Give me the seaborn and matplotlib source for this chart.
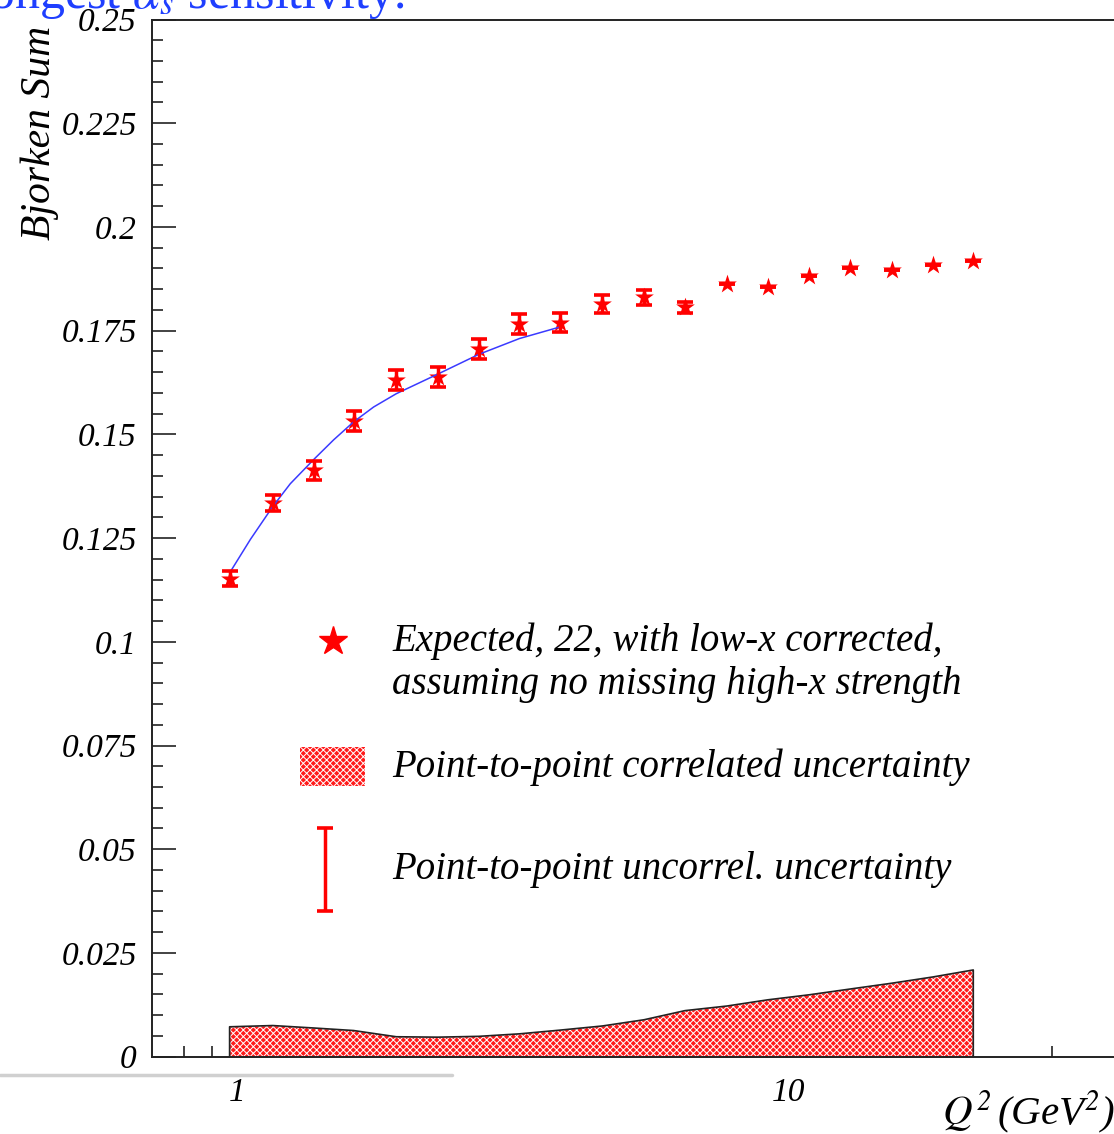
import matplotlib
matplotlib.use("Agg")
import matplotlib.pyplot as plt
from matplotlib.ticker import FixedLocator, NullFormatter
import seaborn as sns
import pandas as pd

# Q^2 (GeV^2) of each point
q2 = [0.968, 1.159, 1.379, 1.624, 1.941, 2.306, 2.741, 3.246, 3.847, 4.590,
      5.462, 6.480, 7.711, 9.150, 10.86, 12.90, 15.35, 18.21, 21.58]
# expected Bjorken sum
bj_sum = [0.1152, 0.1335, 0.1413, 0.1532, 0.1630, 0.1639, 0.1705, 0.1767, 0.1769, 0.1814,
          0.1830, 0.1806, 0.1862, 0.1855, 0.1882, 0.1902, 0.1896, 0.1908, 0.1918]
# point-to-point uncorrelated uncertainty
uncorr = [0.0018, 0.0020, 0.0023, 0.0024, 0.0024, 0.0024, 0.0024, 0.0024, 0.0023, 0.0022,
          0.0019, 0.0013, 0, 0, 0, 0, 0, 0, 0]
# point-to-point correlated uncertainty (band from 0)
corr = [0.0072, 0.0075, 0.0069, 0.0063, 0.0048, 0.0047, 0.0049, 0.0055, 0.0064, 0.0074,
        0.0089, 0.0111, 0.0122, 0.0137, 0.0149, 0.0163, 0.0177, 0.0192, 0.0209]

# fit curve
fit_q2 = [0.968, 1.056, 1.159, 1.247, 1.379, 1.495, 1.624, 1.766, 1.941, 2.306, 2.741, 3.246, 3.847]
fit_val = [0.1166, 0.1247, 0.1326, 0.1381, 0.1441, 0.1487, 0.1530, 0.1566, 0.1598, 0.1645,
           0.1693, 0.1731, 0.1759]

y_ticks = [0, 0.025, 0.05, 0.075, 0.1, 0.125, 0.15, 0.175, 0.2, 0.225, 0.25]
y_tick_labels = ["0", "0.025", "0.05", "0.075", "0.1", "0.125", "0.15", "0.175", "0.2", "0.225", "0.25"]
x_major = [1, 10]
x_major_labels = ["1", "10"]
x_minor = [0.8, 0.9, 2, 3, 4, 5, 6, 7, 8, 9, 20, 30]

legend_labels = ["Expected, 22, with low-x corrected,", "assuming no missing high-x strength",
                 "Point-to-point correlated uncertainty", "Point-to-point uncorrel. uncertainty"]

df = pd.DataFrame({"q2": q2, "bj": bj_sum, "err": uncorr, "corr": corr})
fit_df = pd.DataFrame({"q2": fit_q2, "bj": fit_val})

sns.set_style("ticks")
plt.rcParams["font.family"] = ["Liberation Serif", "DejaVu Serif"]
plt.rcParams["font.style"] = "italic"
plt.rcParams["mathtext.fontset"] = "stix"
plt.rcParams["hatch.linewidth"] = 0.7
plt.rcParams["text.color"] = "black"
plt.rcParams["axes.labelcolor"] = "black"
plt.rcParams["xtick.labelcolor"] = "black"
plt.rcParams["ytick.labelcolor"] = "black"

fig = plt.figure(figsize=(11.14, 11.34), dpi=100)
ax = fig.add_axes([0.1364, 0.0682, 0.870, 0.9146])

# correlated band: red with white cross hatch
ax.fill_between(df["q2"], 0, df["corr"], facecolor="#ff1a1a", linewidth=0)
ax.fill_between(df["q2"], 0, df["corr"], facecolor="none", edgecolor="white", hatch="xxxxx", linewidth=0)
ax.plot([q2[0]] + q2 + [q2[-1]], [0] + corr + [0], color="#222222", lw=1.2)

# fit
sns.lineplot(data=fit_df, x="q2", y="bj", ax=ax, color="#3a3aff", lw=1.1, sort=False)

# data
ax.errorbar(df["q2"], df["bj"], yerr=df["err"], fmt="none", ecolor="red",
            elinewidth=2.5, capsize=6, capthick=2.6)
sns.scatterplot(data=df, x="q2", y="bj", ax=ax, marker="*", s=200, color="red", linewidth=0)

ax.set_xscale("log")
ax.set_xlim(0.7, 40)
ax.set_ylim(0, 0.25)
ax.xaxis.set_major_locator(FixedLocator(x_major))
ax.set_xticklabels(x_major_labels)
ax.xaxis.set_minor_locator(FixedLocator(x_minor))
ax.xaxis.set_minor_formatter(NullFormatter())
ax.set_yticks(y_ticks)
ax.set_yticklabels(y_tick_labels)
ax.yaxis.set_minor_locator(FixedLocator([i * 0.005 for i in range(51)]))
ax.tick_params(which="both", direction="in", labelsize=24, color="#222222")
ax.tick_params(which="major", length=17, width=1.2)
ax.tick_params(which="minor", length=8, width=1.2)
ax.tick_params(axis="x", pad=15)
ax.tick_params(axis="y", pad=11)
for s in ax.spines.values():
    s.set_linewidth(1.4)
    s.set_color("#222222")

ax.set_xlabel("")
ax.set_ylabel("Bjorken Sum", fontsize=30, loc="top")
ax.yaxis.set_label_coords(-0.096, 0.994)

# legend drawn by hand
tr = ax.transAxes
ax.plot([0.1868], [0.4007], marker="*", markersize=21, color="red", transform=tr, clip_on=False)
ax.text(0.2477, 0.4007, legend_labels[0], transform=tr, fontsize=28, va="center")
ax.text(0.2477, 0.3592, legend_labels[1], transform=tr, fontsize=28, va="center")
ax.add_patch(plt.Rectangle((0.1527, 0.2610), 0.0671, 0.0376, transform=tr,
                           facecolor="#ff1a1a", linewidth=0))
ax.add_patch(plt.Rectangle((0.1527, 0.2610), 0.0671, 0.0376, transform=tr,
                           facecolor="none", edgecolor="white", hatch="xxxxx", linewidth=0))
ax.text(0.2477, 0.2793, legend_labels[2], transform=tr, fontsize=28, va="center")
ax.errorbar([0.1785], [0.1805], yerr=[0.04], transform=tr, fmt="none", ecolor="red",
            elinewidth=2.5, capsize=6, capthick=2.6)
ax.text(0.2477, 0.1800, legend_labels[3], transform=tr, fontsize=28, va="center")

# x title at lower right
fig.text(942 / 1114, 1 - 1124 / 1134, r"$Q^2\,$(GeV$^2$)", fontsize=29.5, ha="left", va="baseline")

# bits of the slide around the plot
fig.text(405 / 1114, 1 - 8 / 1134, r"strongest $\alpha_s$ sensitivity.", fontsize=36,
         color="#1f3fff", style="normal", ha="right", va="baseline")
fig.add_artist(plt.Line2D([0, 452 / 1114], [1 - 1075 / 1134] * 2, color="#d0d0d0", lw=2.5))

fig.savefig("out.png", dpi=100)
